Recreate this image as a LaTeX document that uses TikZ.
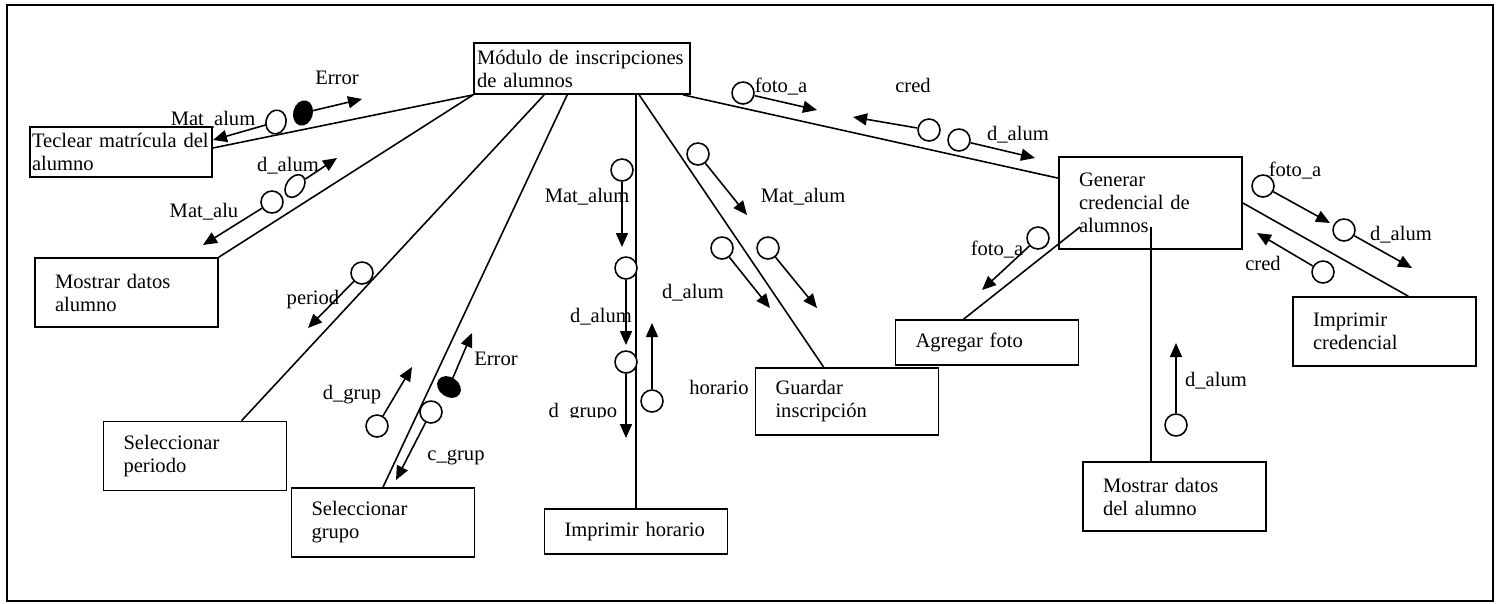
\documentclass[tikz,border=0pt]{standalone}
\usepackage{fontspec}
\setmainfont{Liberation Serif}
\usetikzlibrary{arrows.meta,shapes.geometric,calc}
\newcommand\dfdfont{\fontsize{11.7}{13.1}\selectfont}
\begin{document}
\begin{tikzpicture}[x=0.02cm,y=-0.02cm,
  box/.style={draw, line width=1pt, rectangle, inner xsep=0.4cm, inner ysep=0pt,
    text width=2.86cm, align=left, font=\dfdfont, minimum height=1.38cm},
  link/.style={line width=0.9pt},
  flow/.style={line width=0.9pt, -{Triangle[length=0.28cm,width=0.24cm]}},
  store/.style={circle, draw, fill=white, line width=0.9pt, minimum size=0.44cm, inner sep=0pt},
  oval/.style={ellipse, draw, fill=white, line width=0.9pt, inner sep=0pt},
  ctrl/.style={ellipse, draw, fill=black, line width=0.9pt, inner sep=0pt},
  lbl/.style={font=\dfdfont, inner sep=0pt, anchor=base}]
\useasboundingbox (0,0) rectangle (1501,603);
\draw[line width=1pt] (7,5) rectangle (1493,601);

% processes
\node[box, inner xsep=0.06cm, text width=4.2cm, minimum height=1.02cm] (mod) at (582,68.5) {Módulo de inscripciones\\de alumnos};
\node[box, inner xsep=0.04cm, text width=3.56cm, minimum height=1.0cm] (tec) at (121,152) {Teclear matrícula del\\alumno};
\node[box] (mda) at (126.5,292.5) {Mostrar datos\\alumno};
\node[box] (sper) at (195,456) {Seleccionar\\periodo};
\node[box] (sgr) at (383,522.5) {Seleccionar\\grupo};
\node[box, minimum height=0.9cm] (ihor) at (636,531.5) {Imprimir horario};
\node[box, minimum height=1.34cm] (gua) at (847,401.5) {Guardar\\inscripción};
\node[box, minimum height=0.9cm] (agf) at (987,342.5) {Agregar foto};
\node[box, minimum height=1.84cm] (gen) at (1150.5,203) {Generar\\credencial de\\alumnos};
\node[box] (icr) at (1384.5,331.5) {Imprimir\\credencial};
\node[box] (mdd) at (1174.5,496.5) {Mostrar datos\\del alumno};

% calls
\coordinate (gA) at ($(gen.south west)+(22,-23)$);
\coordinate (gB) at ($(gen.south west)+(93,-23)$);
\draw[link] (mod.south west) -- ($(tec.east)+(0,-4)$);
\draw[link] (mod.south west) -- (mda.north east);
\draw[link] ($(mod.south west)+(71,0)$) -- ($(sper.north west)+(139,0)$);
\draw[link] ($(mod.south west)+(94,0)$) -- (sgr.north);
\draw[link] (ihor.north |- mod.south) -- (ihor.north);
\draw[link] ($(mod.south west)+(166,0)$) -- ($(gua.north west)+(69,0)$);
\draw[link] ($(mod.south west)+(210,0)$) -- ($(gen.north west)+(0,22)$);
\draw[link] (gA) -- ($(agf.north west)+(69,0)$);
\draw[link] (gB) -- (gB |- mdd.north);
\draw[link] (gen.east) -- ($(icr.north west)+(116,0)$);

% Teclear matricula
\node[oval, minimum width=0.4cm, minimum height=0.48cm, rotate=-15] (s1) at (276,122) {};
\coordinate (e1) at (213,140);
\draw[flow] (s1) -- (e1);
\node[lbl] (l1) at (213,125) {Mat\_alum};
\node[ctrl, minimum width=0.36cm, minimum height=0.48cm, rotate=-15] (s2) at (303,113) {};
\coordinate (e2) at (362,99);
\draw[flow] (s2) -- (e2);
\node[lbl] (l2) at (337,84) {Error};

% Mostrar datos alumno
\node[oval, minimum width=0.5cm, minimum height=0.34cm, rotate=55] (s3) at (295,186) {};
\coordinate (e3) at (337,158);
\draw[flow] (s3) -- (e3);
\node[lbl] (l3) at (288,171) {d\_alum};
\node[store] (s4) at (272,202) {};
\coordinate (e4) at (203,245);
\draw[flow] (s4) -- (e4);
\node[lbl] (l4) at (204,217) {Mat\_alu};

% Seleccionar periodo
\node[store] (s5) at (362,273) {};
\coordinate (e5) at (308,328);
\draw[flow] (s5) -- (e5);
\node[lbl] (l5) at (313,304) {period};

% Seleccionar grupo
\node[store] (s6) at (377,426) {};
\coordinate (e6) at (412,367);
\draw[flow] (s6) -- (e6);
\node[lbl] (l6) at (352,399) {d\_grup};
\node[ctrl, minimum width=0.48cm, minimum height=0.36cm, rotate=-35] (s7) at (449,387) {};
\coordinate (e7) at (472,333);
\draw[flow] (s7) -- (e7);
\node[lbl] (l7) at (496,365) {Error};
\node[store] (s8) at (431,412) {};
\coordinate (e8) at (396,480);
\draw[flow] (s8) -- (e8);
\node[lbl] (l8) at (456,460) {c\_grup};

% Imprimir horario
\node[store] (s9) at (622,170) {};
\coordinate (e9) at (622,247);
\draw[flow] (s9) -- (e9);
\node[lbl] (l9) at (587,202) {Mat\_alum};
\node[store] (s10) at (626,268) {};
\coordinate (e10) at (626,345);
\draw[flow] (s10) -- (e10);
\node[lbl] (l10) at (601,322) {d\_alum};
\node[store] (s11) at (626,362) {};
\coordinate (e11) at (626,438);
\draw[flow] (s11) -- (e11);
\begin{scope}
  \clip (540,395) rectangle (630,417);
  \node[lbl] (l11) at (583,417) {d\_grupo};
\end{scope}
\node[store] (s12) at (652,401) {};
\coordinate (e12) at (652,323);
\draw[flow] (s12) -- (e12);
\node[lbl] (l12) at (719,394) {horario};

% Guardar inscripcion
\node[store] (s13) at (698,154) {};
\coordinate (e13) at (747,215);
\draw[flow] (s13) -- (e13);
\node[lbl] (l13) at (803,202) {Mat\_alum};
\node[store] (s14) at (722,248) {};
\coordinate (e14) at (770,308);
\draw[flow] (s14) -- (e14);
\node[lbl] (l14) at (693,298) {d\_alum};
\node[store] (s15) at (768,248) {};
\coordinate (e15) at (817,308);
\draw[flow] (s15) -- (e15);

% Generar credencial
\node[store] (s16) at (743,93) {};
\coordinate (e16) at (817,110);
\draw[flow] (s16) -- (e16);
\node[lbl] (l16) at (781,92) {foto\_a};
\node[store] (s17) at (929,130) {};
\coordinate (e17) at (853,117);
\draw[flow] (s17) -- (e17);
\node[lbl] (l17) at (913,92) {cred};
\node[store] (s18) at (959,140) {};
\coordinate (e18) at (1035,158);
\draw[flow] (s18) -- (e18);
\node[lbl] (l18) at (1018,140) {d\_alum};

% Agregar foto
\node[store] (s19) at (1038,238) {};
\coordinate (e19) at (982,290);
\draw[flow] (s19) -- (e19);
\node[lbl] (l19) at (997,255) {foto\_a};

% Imprimir credencial
\node[store] (s20) at (1263,186) {};
\coordinate (e20) at (1330,223);
\draw[flow] (s20) -- (e20);
\node[lbl] (l20) at (1295,176) {foto\_a};
\node[store] (s21) at (1344,230) {};
\coordinate (e21) at (1412,268);
\draw[flow] (s21) -- (e21);
\node[lbl] (l21) at (1401,240) {d\_alum};
\node[store] (s22) at (1323,272) {};
\coordinate (e22) at (1257,233);
\draw[flow] (s22) -- (e22);
\node[lbl] (l22) at (1263,270) {cred};

% Mostrar datos del alumno
\node[store] (s23) at (1176,425) {};
\coordinate (e23) at (1176,343);
\draw[flow] (s23) -- (e23);
\node[lbl] (l23) at (1216,386) {d\_alum};
\end{tikzpicture}
\end{document}
